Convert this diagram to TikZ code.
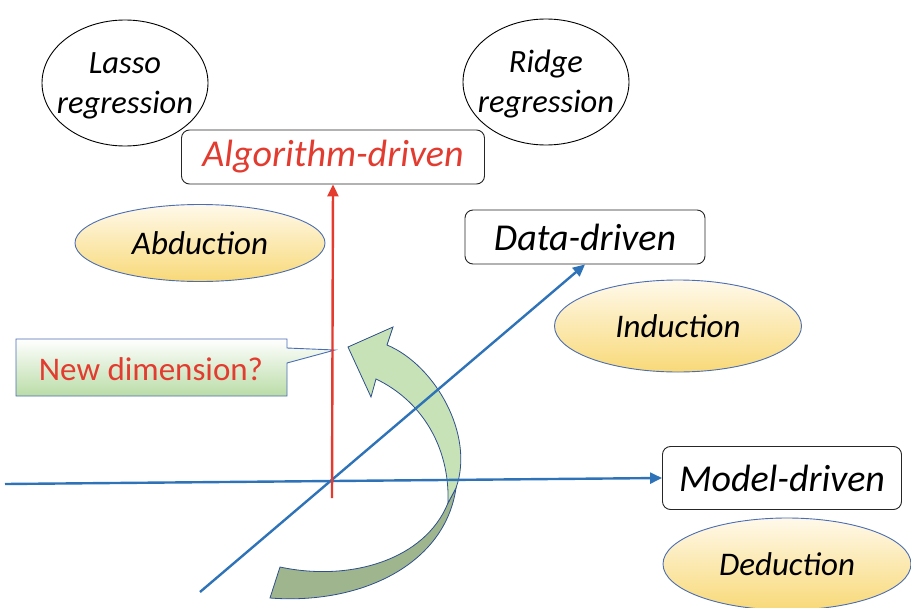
\documentclass[tikz,border=0pt]{standalone}
\usepackage{fontspec}
\setmainfont{Carlito}
\usetikzlibrary{arrows.meta,shapes.geometric}
\definecolor{axblue}{HTML}{2E72B8}
\definecolor{axred}{HTML}{E53A2E}
\definecolor{txred}{HTML}{E23B30}
\definecolor{edgeblue}{HTML}{4A6DB5}
\definecolor{arrowedge}{HTML}{2F4F8F}
\definecolor{lightgreen}{HTML}{C7E2B6}
\definecolor{calloutgreen}{HTML}{BADCA7}
\definecolor{darkgreen}{HTML}{9FB58D}
\definecolor{yeltop}{HTML}{FFF9EA}
\definecolor{yelbot}{HTML}{F8D978}
\tikzset{
  drivenbox/.style={draw=black!85, line width=0.9pt, rounded corners=8pt, fill=white, inner sep=0pt},
  yelell/.style={ellipse, draw=edgeblue, line width=0.9pt, top color=yeltop, bottom color=yelbot, inner sep=0pt},
  circ/.style={ellipse, draw=black, line width=0.9pt, inner sep=0pt, minimum width=166pt, minimum height=126pt},
  circtext/.style={font=\fontsize{32.5}{40}\selectfont\itshape, align=center},
  elltext/.style={font=\fontsize{33}{38}\selectfont\itshape},
  boxtext/.style={font=\fontsize{38}{44}\selectfont\itshape},
  axis/.style={line width=2.4pt, -{Triangle[length=12pt,width=11pt]}},
}
\begin{document}
\begin{tikzpicture}[x=1pt,y=-1pt]
\useasboundingbox (0,0) rectangle (911,608);
% circles
\node[circ] (lasso) at (125,83) {};
\node[circtext] (lassot) at ([yshift=-3pt]lasso.center) {Lasso\\regression};
\node[circ] (ridge) at (546,82) {};
\node[circtext] (ridget) at ([yshift=-2pt]ridge.center) {Ridge\\regression};
% boxes
\node[drivenbox, minimum width=303pt, minimum height=54pt, text=txred, boxtext] (alg) at (333,157) {Algorithm-driven};
\node[drivenbox, minimum width=240pt, minimum height=54pt, boxtext] (data) at (585,237) {Data-driven};
\node[drivenbox, minimum width=239pt, minimum height=63pt, boxtext] (model) at (782,478) {Model-driven};
% yellow ellipses
\node[yelell, minimum width=250pt, minimum height=77pt, elltext] (abd) at (200,243) {Abduction};
\node[yelell, minimum width=247pt, minimum height=92pt, elltext] (ind) at (678,326) {Induction};
\node[yelell, minimum width=248pt, minimum height=92pt, elltext] (ded) at (787,564) {Deduction};
% callout
\path[draw=edgeblue, line width=0.9pt, top color=white, bottom color=calloutgreen]
  (16,339) -- (287,339) -- (287,348) -- (335,350) -- (287,363) -- (287,396) -- (16,396) -- cycle;
\node[text=txred, font=\fontsize{33}{38}\selectfont] (newdim) at (151,369) {New dimension?};
% green curved arrow
\path[draw=arrowedge, line width=0.8pt, fill=darkgreen]
  (456,488) .. controls (445,565) and (360,605) .. (270,598)
  -- (280,567) .. controls (350,582) and (425,560) .. (448,503) -- cycle;
\path[draw=arrowedge, line width=0.8pt, fill=lightgreen]
  (348,347) -- (393,327) -- (387,345)
  .. controls (435,365) and (475,435) .. (456,488)
  -- (448,503)
  .. controls (450,445) and (420,400) .. (376,379)
  -- (371,397) -- cycle;
% axes
\coordinate (hstart) at (5,484);
\coordinate (dstart) at (200,592);
\coordinate (rstart) at (332,498);
\draw[axis, axblue] (hstart) -- (model.west);
\draw[axis, axblue] (dstart) -- (data.south);
\draw[axis, axred] (rstart) -- (alg.south);
\end{tikzpicture}
\end{document}
